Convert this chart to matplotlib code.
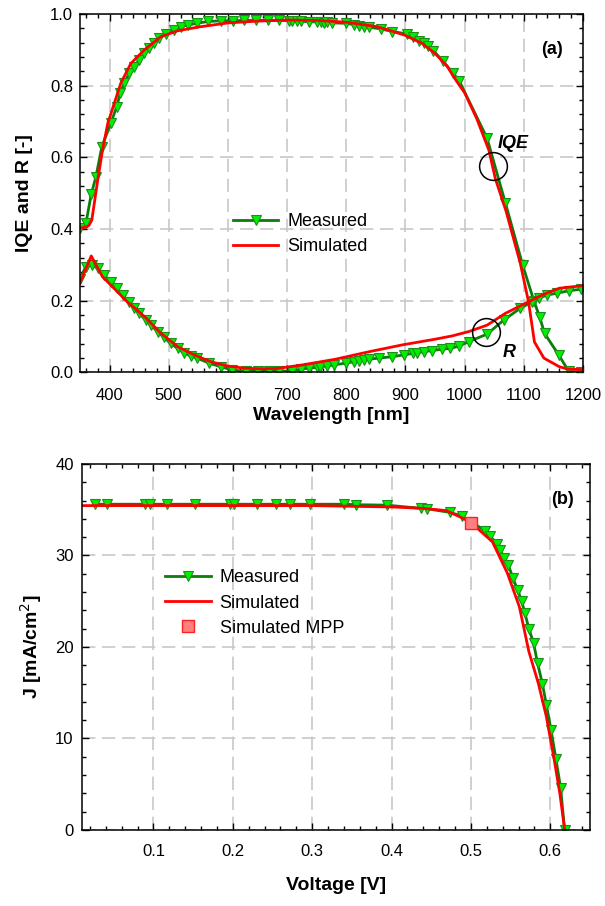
import matplotlib
matplotlib.use("Agg")
import matplotlib.pyplot as plt
from matplotlib.ticker import MultipleLocator

plt.rcParams['font.family'] = ['Liberation Sans', 'DejaVu Sans']

# ---- (a) IQE and reflectance ----
iqe_meas_nm = [350, 360, 369, 377, 387, 402, 412, 418, 425, 433, 442, 450, 459, 467, 475, 484, 495,
               509, 520, 532, 548, 566, 589, 608, 628, 648, 667, 687, 704, 709, 717, 724, 737, 751,
               757, 762, 767, 776, 800, 813, 822, 830, 839, 859, 878, 903, 912, 923, 931, 938, 947,
               963, 981, 991, 1038, 1069, 1098, 1117, 1127, 1135, 1159, 1176, 1197]
iqe_meas = [0.404, 0.416, 0.497, 0.546, 0.63, 0.695, 0.741, 0.779, 0.807, 0.835, 0.853, 0.872, 0.89,
            0.904, 0.918, 0.932, 0.944, 0.955, 0.965, 0.969, 0.974, 0.979, 0.981, 0.981, 0.982, 0.982,
            0.982, 0.982, 0.981, 0.98, 0.981, 0.98, 0.978, 0.978, 0.977, 0.976, 0.977, 0.975, 0.974,
            0.97, 0.966, 0.965, 0.963, 0.958, 0.951, 0.944, 0.935, 0.925, 0.918, 0.911, 0.898, 0.869,
            0.834, 0.813, 0.653, 0.472, 0.30, 0.20, 0.154, 0.109, 0.049, 0.003, 0.0]

iqe_sim_nm = [350, 360, 365, 370, 380, 388, 397, 408, 419, 436, 459, 487, 515, 552, 600, 650, 700,
              750, 800, 850, 872, 900, 928, 950, 970, 985, 1000, 1020, 1041, 1052, 1070, 1094, 1108,
              1118, 1134, 1160, 1175, 1200]
iqe_sim = [0.403, 0.405, 0.41, 0.425, 0.537, 0.62, 0.695, 0.751, 0.807, 0.862, 0.90, 0.937, 0.953,
           0.964, 0.975, 0.98, 0.983, 0.982, 0.977, 0.965, 0.955, 0.94, 0.918, 0.89, 0.855, 0.816,
           0.78, 0.71, 0.62, 0.54, 0.45, 0.305, 0.197, 0.085, 0.04, 0.016, 0.009, 0.008]

r_meas_nm = [350, 360, 371, 380, 391, 402, 412, 422, 433, 442, 450, 461, 470, 481, 492, 503, 515, 526,
             537, 548, 568, 588, 607, 630, 650, 669, 687, 709, 723, 737, 751, 756, 768, 779, 799, 813,
             822, 830, 839, 855, 878, 897, 912, 920, 931, 945, 962, 976, 991, 1007, 1038, 1066, 1094,
             1114, 1125, 1139, 1156, 1176, 1197]
r_meas = [0.262, 0.295, 0.30, 0.29, 0.272, 0.253, 0.235, 0.216, 0.197, 0.179, 0.165, 0.146, 0.132,
          0.114, 0.098, 0.081, 0.067, 0.054, 0.046, 0.04, 0.026, 0.016, 0.007, 0.003, 0.003, 0.003,
          0.003, 0.005, 0.009, 0.012, 0.014, 0.016, 0.018, 0.021, 0.026, 0.03, 0.033, 0.035, 0.037,
          0.04, 0.044, 0.049, 0.053, 0.055, 0.058, 0.061, 0.065, 0.067, 0.074, 0.086, 0.107, 0.146,
          0.179, 0.197, 0.207, 0.216, 0.221, 0.228, 0.232]

r_sim_nm = [350, 369, 388, 402, 430, 459, 487, 515, 543, 571, 599, 627, 655, 683, 726, 782, 839, 895,
            951, 979, 1007, 1038, 1069, 1108, 1131, 1160, 1200]
r_sim = [0.249, 0.325, 0.267, 0.244, 0.197, 0.156, 0.109, 0.072, 0.049, 0.03, 0.018, 0.012, 0.01,
         0.011, 0.021, 0.037, 0.058, 0.077, 0.093, 0.102, 0.114, 0.132, 0.165, 0.197, 0.216, 0.235,
         0.242]

# ---- (b) J-V ----
jv_meas_v = [0.026, 0.041, 0.089, 0.096, 0.117, 0.152, 0.196, 0.201, 0.231, 0.255, 0.272, 0.297,
             0.340, 0.355, 0.394, 0.437, 0.445, 0.474, 0.489, 0.518, 0.524, 0.533, 0.537, 0.542,
             0.547, 0.553, 0.559, 0.564, 0.568, 0.573, 0.579, 0.584, 0.590, 0.595, 0.601, 0.607,
             0.613, 0.618]
jv_meas_j = [35.6, 35.6, 35.6, 35.6, 35.6, 35.6, 35.6, 35.6, 35.6, 35.6, 35.6, 35.6, 35.6, 35.55,
             35.5, 35.15, 35.1, 34.7, 34.3, 32.7, 32.1, 31.3, 30.6, 29.7, 29.0, 27.5, 26.2, 25.0,
             23.7, 22.0, 20.4, 18.2, 16.0, 13.7, 10.9, 7.8, 4.6, 0.0]

jv_sim_v = [0.01, 0.1, 0.2, 0.3, 0.40, 0.44, 0.469, 0.489, 0.5, 0.527, 0.546, 0.561, 0.573, 0.585,
            0.595, 0.605, 0.612, 0.618]
jv_sim_j = [35.45, 35.45, 35.45, 35.45, 35.3, 35.15, 34.9, 34.1, 33.6, 31.5, 28.05, 24.4, 19.5,
            16.0, 12.4, 7.65, 4.0, 0.1]

mpp_v = [0.5]
mpp_j = [33.6]

dark_green = '#0a7d0a'
light_green = '#00ee00'
red = '#ff0000'

fig = plt.figure(figsize=(6.05, 9.06), dpi=100)
ax1 = fig.add_axes([0.1322, 0.5889, 0.8314, 0.3957])
ax2 = fig.add_axes([0.1355, 0.0839, 0.8397, 0.404])

grid_kw = dict(color='#c8c8c8', linestyle=(0, (8, 4)), linewidth=1.2)


def style_axis(ax, xpad, ypad):
    ax.tick_params(which='both', direction='in', top=True, right=True, width=1.0, colors='black')
    ax.tick_params(which='major', length=5)
    ax.tick_params(which='minor', length=3)
    ax.tick_params(axis='x', labelsize=12, pad=xpad)
    ax.tick_params(axis='y', labelsize=12, pad=ypad)
    for sp in ax.spines.values():
        sp.set_linewidth(1.1)
    ax.grid(True, which='major', **grid_kw)
    ax.set_axisbelow(True)


meas_kw = dict(color=dark_green, linewidth=2, marker='v', markersize=7,
               markerfacecolor=light_green, markeredgecolor='#1b8f1b', markeredgewidth=0.8)

# panel (a)
ax1.plot(iqe_meas_nm, iqe_meas, label='Measured', **meas_kw)
ax1.plot(r_meas_nm, r_meas, **meas_kw)
ax1.plot(iqe_sim_nm, iqe_sim, color=red, linewidth=2, label='Simulated')
ax1.plot(r_sim_nm, r_sim, color=red, linewidth=2)
ax1.set_xlim(350, 1200)
ax1.set_ylim(0, 1.0)
ax1.xaxis.set_major_locator(MultipleLocator(100))
ax1.xaxis.set_minor_locator(MultipleLocator(20))
ax1.yaxis.set_major_locator(MultipleLocator(0.2))
ax1.yaxis.set_minor_locator(MultipleLocator(0.04))
ax1.yaxis.set_major_formatter(matplotlib.ticker.FormatStrFormatter('%.1f'))
style_axis(ax1, 11, 5)
ax1.set_xlabel('Wavelength [nm]', fontsize=14, fontweight='bold', labelpad=3)
ax1.set_ylabel('IQE and R [-]', fontsize=14, fontweight='bold', labelpad=12)

# circles marking the curves
ax1.plot([1047.6], [0.576], marker='o', markersize=20, fillstyle='none',
         markeredgecolor='black', markeredgewidth=1.1, linestyle='none')
ax1.plot([1036], [0.114], marker='o', markersize=20, fillstyle='none',
         markeredgecolor='black', markeredgewidth=1.1, linestyle='none')
ax1.text(1082, 0.64, 'IQE', fontsize=13, fontweight='bold', style='italic', ha='center', va='center')
ax1.text(1075, 0.057, 'R', fontsize=13, fontweight='bold', style='italic', ha='center', va='center')
ax1.text(1148, 0.90, '(a)', fontsize=13, fontweight='bold', ha='center', va='center')

ax1.legend(loc='center left', bbox_to_anchor=(0.29, 0.385), frameon=False, fontsize=13,
           handlelength=2.5, handletextpad=0.5, labelspacing=0.45, borderaxespad=0)

# panel (b)
ax2.plot(jv_meas_v, jv_meas_j, label='Measured', **meas_kw)
ax2.plot(jv_sim_v, jv_sim_j, color=red, linewidth=2, label='Simulated')
ax2.plot(mpp_v, mpp_j, linestyle='none', marker='s', markersize=8, markerfacecolor='#ff8080',
         markeredgecolor='#ff2020', markeredgewidth=1.0, label='Simulated MPP')
ax2.set_xlim(0.01, 0.65)
ax2.set_ylim(0, 40)
ax2.xaxis.set_major_locator(MultipleLocator(0.1))
ax2.xaxis.set_minor_locator(MultipleLocator(0.02))
ax2.yaxis.set_major_locator(MultipleLocator(10))
ax2.yaxis.set_minor_locator(MultipleLocator(2))
ax2.xaxis.set_major_formatter(matplotlib.ticker.FormatStrFormatter('%.1f'))
style_axis(ax2, 10, 6)
ax2.set_xticks([0.1, 0.2, 0.3, 0.4, 0.5, 0.6])
ax2.set_xlabel('Voltage [V]', fontsize=14, fontweight='bold', labelpad=13)
ax2.set_ylabel('J [mA/cm$^2$]', fontsize=14, fontweight='bold', labelpad=8)
ax2.text(0.615, 36.1, '(b)', fontsize=13, fontweight='bold', ha='center', va='center')

ax2.legend(loc='center left', bbox_to_anchor=(0.15, 0.62), frameon=False, fontsize=13,
           handlelength=2.5, handletextpad=0.5, labelspacing=0.45, borderaxespad=0)

fig.savefig('out.png', dpi=100)
